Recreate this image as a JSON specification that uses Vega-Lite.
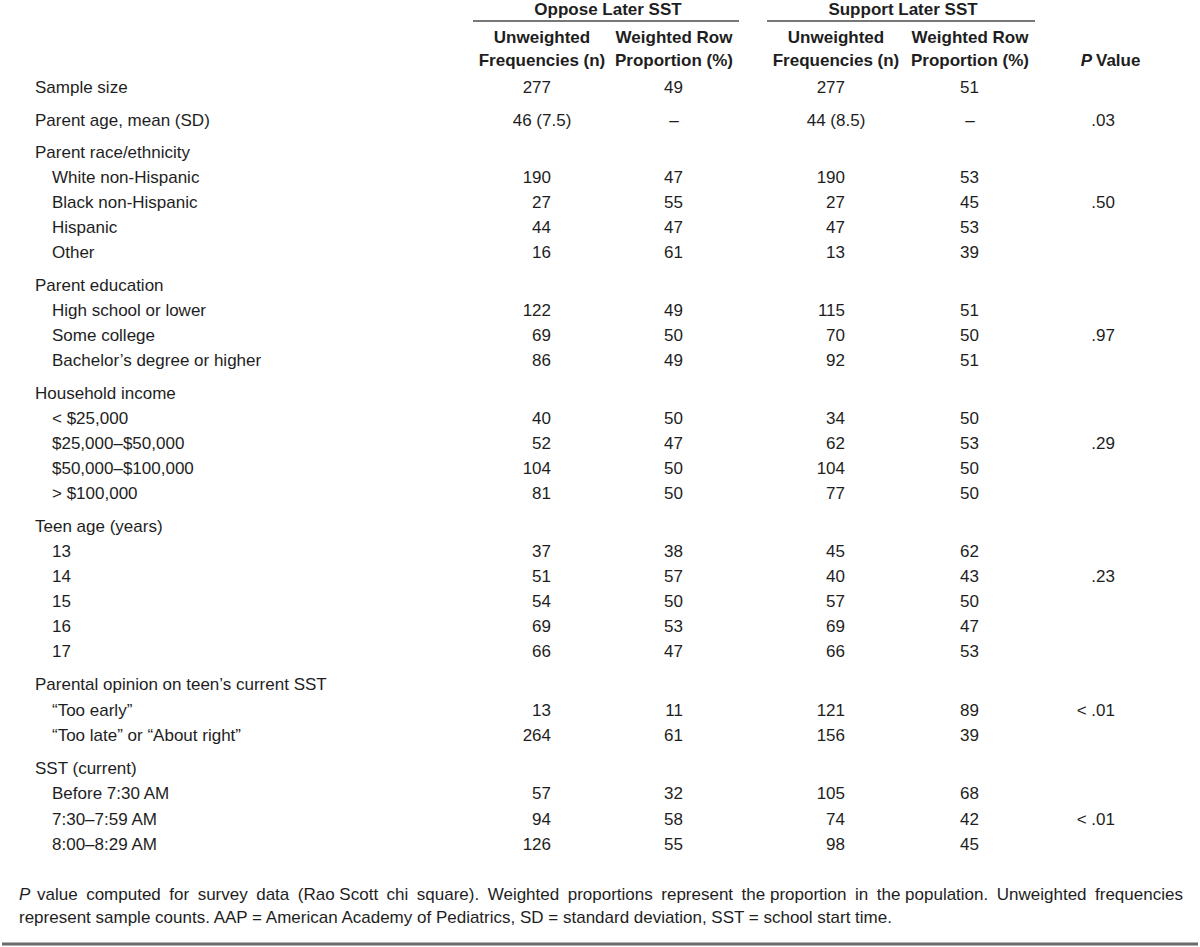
{
  "$schema": "https://vega.github.io/schema/vega-lite/v6.json",
  "width": 1200,
  "height": 947,
  "padding": 0,
  "autosize": {"type": "fit", "contains": "padding"},
  "background": "white",
  "config": {
    "view": {"stroke": null},
    "text": {"font": "Liberation Sans, Arial, sans-serif", "fontSize": 17, "color": "#1e1e1e", "baseline": "middle"}
  },
  "datasets": {
    "one": [{}],
    "rows": [
      {"r": 0, "level": 0, "type": "n", "label": "Sample size", "on": "277", "op": "49", "sn": "277", "sp": "51"},
      {"r": 1, "level": 0, "type": "mean", "label": "Parent age, mean (SD)", "on": "46 (7.5)", "op": "–", "sn": "44 (8.5)", "sp": "–", "p": ".03"},
      {"r": 2, "level": 0, "type": "group", "label": "Parent race/ethnicity"},
      {"r": 3, "level": 1, "type": "n", "label": "White non-Hispanic", "on": "190", "op": "47", "sn": "190", "sp": "53"},
      {"r": 4, "level": 1, "type": "n", "label": "Black non-Hispanic", "on": "27", "op": "55", "sn": "27", "sp": "45", "p": ".50"},
      {"r": 5, "level": 1, "type": "n", "label": "Hispanic", "on": "44", "op": "47", "sn": "47", "sp": "53"},
      {"r": 6, "level": 1, "type": "n", "label": "Other", "on": "16", "op": "61", "sn": "13", "sp": "39"},
      {"r": 7, "level": 0, "type": "group", "label": "Parent education"},
      {"r": 8, "level": 1, "type": "n", "label": "High school or lower", "on": "122", "op": "49", "sn": "115", "sp": "51"},
      {"r": 9, "level": 1, "type": "n", "label": "Some college", "on": "69", "op": "50", "sn": "70", "sp": "50", "p": ".97"},
      {"r": 10, "level": 1, "type": "n", "label": "Bachelor’s degree or higher", "on": "86", "op": "49", "sn": "92", "sp": "51"},
      {"r": 11, "level": 0, "type": "group", "label": "Household income"},
      {"r": 12, "level": 1, "type": "n", "label": "< $25,000", "on": "40", "op": "50", "sn": "34", "sp": "50"},
      {"r": 13, "level": 1, "type": "n", "label": "$25,000–$50,000", "on": "52", "op": "47", "sn": "62", "sp": "53", "p": ".29"},
      {"r": 14, "level": 1, "type": "n", "label": "$50,000–$100,000", "on": "104", "op": "50", "sn": "104", "sp": "50"},
      {"r": 15, "level": 1, "type": "n", "label": "> $100,000", "on": "81", "op": "50", "sn": "77", "sp": "50"},
      {"r": 16, "level": 0, "type": "group", "label": "Teen age (years)"},
      {"r": 17, "level": 1, "type": "n", "label": "13", "on": "37", "op": "38", "sn": "45", "sp": "62"},
      {"r": 18, "level": 1, "type": "n", "label": "14", "on": "51", "op": "57", "sn": "40", "sp": "43", "p": ".23"},
      {"r": 19, "level": 1, "type": "n", "label": "15", "on": "54", "op": "50", "sn": "57", "sp": "50"},
      {"r": 20, "level": 1, "type": "n", "label": "16", "on": "69", "op": "53", "sn": "69", "sp": "47"},
      {"r": 21, "level": 1, "type": "n", "label": "17", "on": "66", "op": "47", "sn": "66", "sp": "53"},
      {"r": 22, "level": 0, "type": "group", "label": "Parental opinion on teen’s current SST"},
      {"r": 23, "level": 1, "type": "n", "label": "“Too early”", "on": "13", "op": "11", "sn": "121", "sp": "89", "p": "< .01"},
      {"r": 24, "level": 1, "type": "n", "label": "“Too late” or “About right”", "on": "264", "op": "61", "sn": "156", "sp": "39"},
      {"r": 25, "level": 0, "type": "group", "label": "SST (current)"},
      {"r": 26, "level": 1, "type": "n", "label": "Before 7:30 AM", "on": "57", "op": "32", "sn": "105", "sp": "68"},
      {"r": 27, "level": 1, "type": "n", "label": "7:30–7:59 AM", "on": "94", "op": "58", "sn": "74", "sp": "42", "p": "< .01"},
      {"r": 28, "level": 1, "type": "n", "label": "8:00–8:29 AM", "on": "126", "op": "55", "sn": "98", "sp": "45"}
    ],
    "cols": [{"col": "on", "c": 1}, {"col": "op", "c": 2}, {"col": "sn", "c": 3}, {"col": "sp", "c": 4}],
    "spans": [
      {"t": "Oppose Later SST", "c1": 1, "c2": 2, "cm": 1.5},
      {"t": "Support Later SST", "c1": 3, "c2": 4, "cm": 3.5}
    ],
    "heads": [
      {"r": -2, "c": 1, "t": "Unweighted"},
      {"r": -1, "c": 1, "t": "Frequencies (n)"},
      {"r": -2, "c": 2, "t": "Weighted Row"},
      {"r": -1, "c": 2, "t": "Proportion (%)"},
      {"r": -2, "c": 3, "t": "Unweighted"},
      {"r": -1, "c": 3, "t": "Frequencies (n)"},
      {"r": -2, "c": 4, "t": "Weighted Row"},
      {"r": -1, "c": 4, "t": "Proportion (%)"}
    ],
    "notes": [
      {"r": 29, "t": "value\u2002computed\u2002for\u2002survey\u2002data\u2002(Rao Scott\u2002chi\u2002square).\u2002Weighted\u2002proportions\u2002represent\u2002the proportion\u2002in\u2002the population.\u2002Unweighted\u2002frequencies"},
      {"r": 30, "t": "represent sample counts. AAP = American Academy of Pediatrics, SD = standard deviation, SST = school start time."}
    ]
  },
  "layer": [
    {
      "data": {"name": "rows"},
      "transform": [{"filter": "datum.level == 0"}],
      "mark": {"type": "text", "align": "left"},
      "encoding": {
        "x": {"datum": 0, "type": "quantitative", "axis": null, "scale": {"domain": [0, 1, 2, 3, 4, 5], "range": [33, 540, 672, 834, 968, 1105], "nice": false, "zero": false}},
        "y": {"field": "r", "type": "quantitative", "axis": null, "scale": {"domain": [-3, -2, -1, 0, 1, 2, 6, 7, 10, 11, 15, 16, 21, 22, 24, 25, 28, 29, 30], "range": [10, 38, 61, 88, 121, 153, 253, 286, 361, 394, 494, 527, 652, 685, 736, 769, 845, 895, 918], "nice": false, "zero": false}},
        "text": {"field": "label"}
      }
    },
    {
      "data": {"name": "rows"},
      "transform": [{"filter": "datum.level == 1"}],
      "mark": {"type": "text", "align": "left", "dx": 17},
      "encoding": {
        "x": {"datum": 0, "type": "quantitative", "axis": null},
        "y": {"field": "r", "type": "quantitative", "axis": null},
        "text": {"field": "label"}
      }
    },
    {
      "data": {"name": "rows"},
      "transform": [
        {"filter": "datum.type == 'n'"},
        {"fold": ["on", "op", "sn", "sp"], "as": ["col", "val"]},
        {"lookup": "col", "from": {"data": {"name": "cols"}, "key": "col", "fields": ["c"]}}
      ],
      "mark": {"type": "text", "align": "right", "dx": 9},
      "encoding": {
        "x": {"field": "c", "type": "quantitative", "axis": null},
        "y": {"field": "r", "type": "quantitative", "axis": null},
        "text": {"field": "val"}
      }
    },
    {
      "data": {"name": "rows"},
      "transform": [
        {"filter": "datum.type == 'mean'"},
        {"fold": ["on", "op", "sn", "sp"], "as": ["col", "val"]},
        {"lookup": "col", "from": {"data": {"name": "cols"}, "key": "col", "fields": ["c"]}}
      ],
      "mark": {"type": "text", "align": "center"},
      "encoding": {
        "x": {"field": "c", "type": "quantitative", "axis": null},
        "y": {"field": "r", "type": "quantitative", "axis": null},
        "text": {"field": "val"}
      }
    },
    {
      "data": {"name": "rows"},
      "transform": [{"filter": "isValid(datum.p)"}],
      "mark": {"type": "text", "align": "right", "dx": 8},
      "encoding": {
        "x": {"datum": 5, "type": "quantitative", "axis": null},
        "y": {"field": "r", "type": "quantitative", "axis": null},
        "text": {"field": "p"}
      }
    },
    {
      "data": {"name": "spans"},
      "mark": {"type": "text", "align": "center", "fontWeight": "bold"},
      "encoding": {
        "x": {"field": "cm", "type": "quantitative", "axis": null},
        "y": {"datum": -3, "type": "quantitative", "axis": null},
        "text": {"field": "t"}
      }
    },
    {
      "data": {"name": "spans"},
      "mark": {"type": "rule", "color": "#4a4a4a", "strokeWidth": 1.5, "xOffset": -69, "x2Offset": 65, "yOffset": 11},
      "encoding": {
        "x": {"field": "c1", "type": "quantitative", "axis": null},
        "x2": {"field": "c2"},
        "y": {"datum": -3, "type": "quantitative", "axis": null}
      }
    },
    {
      "data": {"name": "heads"},
      "mark": {"type": "text", "align": "center", "fontWeight": "bold"},
      "encoding": {
        "x": {"field": "c", "type": "quantitative", "axis": null},
        "y": {"field": "r", "type": "quantitative", "axis": null},
        "text": {"field": "t"}
      }
    },
    {
      "data": {"name": "one"},
      "mark": {"type": "text", "align": "right", "fontWeight": "bold", "fontStyle": "italic", "dx": -15},
      "encoding": {
        "x": {"datum": 5, "type": "quantitative", "axis": null},
        "y": {"datum": -1, "type": "quantitative", "axis": null},
        "text": {"value": "P"}
      }
    },
    {
      "data": {"name": "one"},
      "mark": {"type": "text", "align": "left", "fontWeight": "bold", "dx": -11},
      "encoding": {
        "x": {"datum": 5, "type": "quantitative", "axis": null},
        "y": {"datum": -1, "type": "quantitative", "axis": null},
        "text": {"value": "Value"}
      }
    },
    {
      "data": {"name": "one"},
      "mark": {"type": "text", "align": "left", "fontStyle": "italic", "dx": -16},
      "encoding": {
        "x": {"datum": 0, "type": "quantitative", "axis": null},
        "y": {"datum": 29, "type": "quantitative", "axis": null},
        "text": {"value": "P"}
      }
    },
    {
      "data": {"name": "notes"},
      "transform": [{"filter": "datum.r == 29"}],
      "mark": {"type": "text", "align": "left", "dx": 2},
      "encoding": {
        "x": {"datum": 0, "type": "quantitative", "axis": null},
        "y": {"field": "r", "type": "quantitative", "axis": null},
        "text": {"field": "t"}
      }
    },
    {
      "data": {"name": "notes"},
      "transform": [{"filter": "datum.r == 30"}],
      "mark": {"type": "text", "align": "left", "dx": -16},
      "encoding": {
        "x": {"datum": 0, "type": "quantitative", "axis": null},
        "y": {"field": "r", "type": "quantitative", "axis": null},
        "text": {"field": "t"}
      }
    },
    {
      "data": {"name": "one"},
      "mark": {"type": "rule", "color": "#6b6b6b", "strokeWidth": 3, "yOffset": 26},
      "encoding": {
        "y": {"datum": 30, "type": "quantitative", "axis": null}
      }
    }
  ]
}
